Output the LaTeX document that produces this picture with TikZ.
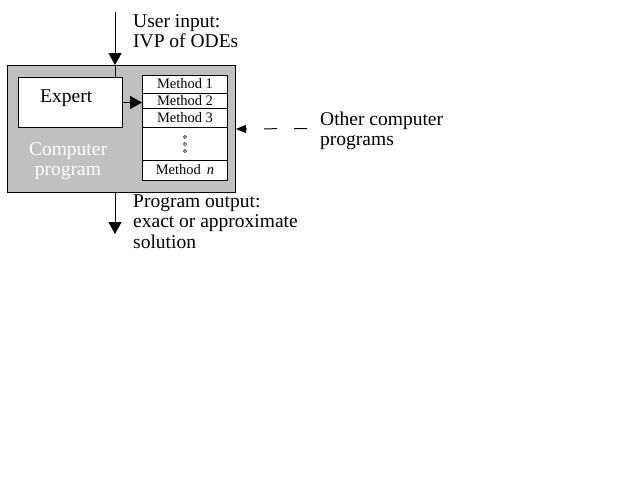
\documentclass[tikz,border=0pt]{standalone}
\usepackage{fontspec}
\setmainfont{Liberation Serif}
\usetikzlibrary{arrows.meta}
\definecolor{progray}{HTML}{C0C0C0}
\begin{document}
\begin{tikzpicture}[x=1pt,y=-1pt,
  box/.style={draw=black,line width=1pt,inner sep=0pt,anchor=north west},
  lbl/.style={font=\fontsize{19.5}{20.5}\selectfont,anchor=base west,align=left,inner sep=0pt},
  meth/.style={box,fill=white,minimum width=85pt,text height=9.5pt,text depth=1pt,font=\fontsize{14.5}{16}\selectfont},
  arr/.style={line width=1pt,-{Triangle[length=12pt,width=13pt]}},
  darr/.style={line width=1pt,dash pattern=on 13pt off 17pt,-{Triangle[length=10pt,width=8pt]}},
]
\useasboundingbox (0,0) rectangle (640,480);
\fill[white] (0,0) rectangle (640,480);
% main program box
\node[box,fill=progray,minimum width=228pt,minimum height=127pt] (prog) at (7,65) {};
\node[box,fill=white,minimum width=104pt,minimum height=50pt] (expert) at (18,77) {};
\node[lbl] (exptxt) at (40,102) {Expert};
\node[lbl,text=white,align=center,anchor=base] (cp) at (68,175.5) {Computer\\program};
% methods
\node[meth,minimum height=18pt] (m1) at (142,75) {Method 1};
\node[meth,minimum height=15pt] (m2) at (142,93) {Method 2};
\node[meth,minimum height=19pt] (m3) at (142,108) {Method 3};
\node[meth,minimum height=33pt] (mdots) at (142,127) {};
\node[meth,minimum height=20pt] (mn) at (142,160) {Method\hspace{6pt}\textit{n}};
\foreach \dy in {-7,0,7} \draw[line width=0.5pt] ([yshift=\dy pt]mdots.center) circle (1.6pt);
% labels
\node[lbl] (uin) at (133,47.5) {User input:\\IVP of ODEs};
\node[lbl] (pout) at (133,248) {Program output:\\exact or approximate\\solution};
\node[lbl] (other) at (320,145.5) {Other computer\\programs};
% connectors
\coordinate (inS) at (115,12);
\coordinate (outE) at (115,234);
\coordinate (oS) at (307,128.5);
\draw[arr] (inS) -- (inS |- prog.north);
\draw[line width=1pt] (inS |- prog.north) -- (inS |- expert.north);
\draw[arr] (outE |- prog.south) -- (outE);
\draw[arr] (expert.east) -- (expert.east -| m2.west);
\draw[darr] (oS) -- (prog.east);
\end{tikzpicture}
\end{document}
